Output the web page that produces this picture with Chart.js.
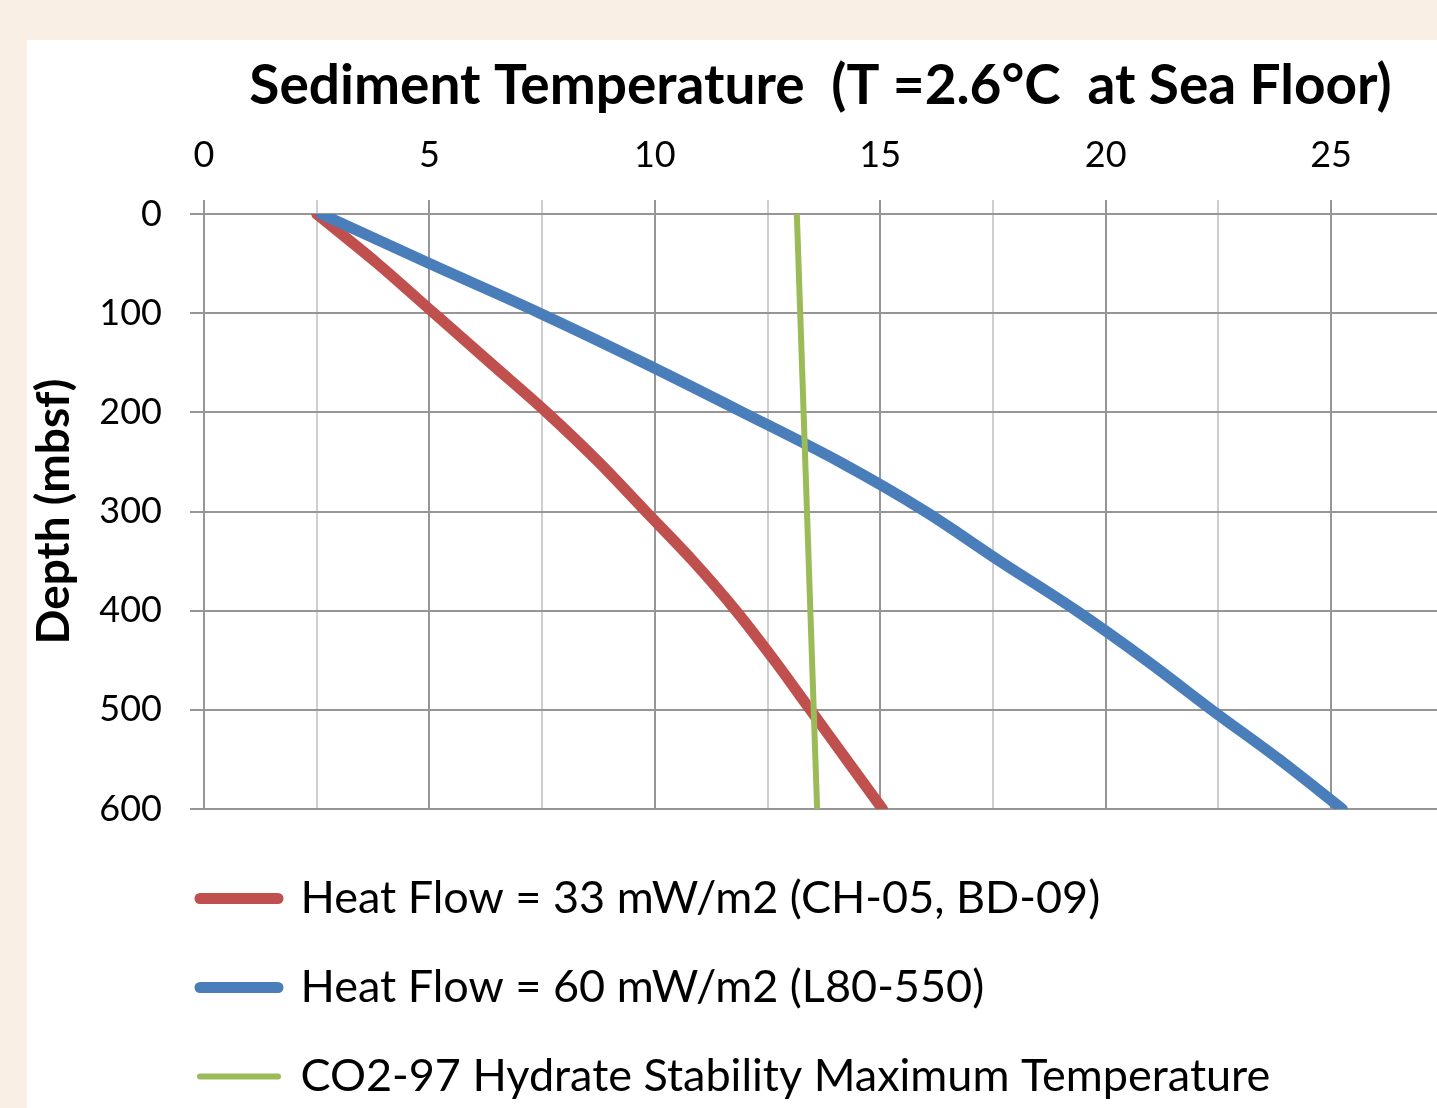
<!DOCTYPE html>
<html>
<head>
<meta charset="utf-8">
<script src="https://cdn.jsdelivr.net/npm/chart.js@4/dist/chart.umd.min.js"></script>
<style>
  html, body { margin: 0; padding: 0; background: #f9efe5; overflow: hidden; }
  #panel { position: absolute; left: 27px; top: 40px; width: 1410px; height: 1068px; background: #fff; }
</style>
</head>
<body>
<div id="panel"><canvas id="chart_sediment_temp"></canvas></div>
<script>
// depth below sea floor (m) for the two heat-flow profiles
const depths = [0, 50, 100, 150, 200, 250, 300, 350, 400, 450, 500, 550, 600];
// temperature (°C)
const heatFlow33 = [2.5, 3.85, 5.1, 6.35, 7.6, 8.75, 9.8, 10.85, 11.8, 12.65, 13.45, 14.25, 15.05];
const heatFlow60 = [2.6, 5.0, 7.45, 9.75, 11.95, 14.1, 16.0, 17.65, 19.35, 20.9, 22.35, 23.85, 25.25];
// CO2-97 hydrate stability max temperature
const co2Depths = [0, 600];
const co2Temps = [13.15, 13.6];

const seriesLabels = [
    'Heat Flow = 33 mW/m2 (CH-05, BD-09)',
    'Heat Flow = 60 mW/m2 (L80-550)',
    'CO2-97 Hydrate Stability Maximum Temperature'
];
const xTickLabels = [0, 5, 10, 15, 20, 25];
const titleText = 'Sediment Temperature  (T =2.6°C  at Sea Floor)';

const toPoints = (xs, ys) => xs.map((x, i) => ({ x: x, y: ys[i] }));
const isMajor = v => xTickLabels.includes(Math.round(v * 100) / 100);

Chart.defaults.font.family = 'Lato, "Open Sans", sans-serif';
Chart.defaults.color = '#000';

// push the legend block under the plot, lined up like the original
const legendShift = {
    id: 'legendShift',
    afterLayout(chart) {
        const lg = chart.legend;
        lg.left = chart.chartArea.left - 48;
        lg.top = chart.chartArea.bottom + 23;
        lg.right = chart.width;
        lg.bottom = chart.height;
    }
};

const canvas = document.getElementById('chart_sediment_temp');

new Chart(canvas, {
    type: 'scatter',
    data: {
        datasets: [
            {
                label: seriesLabels[0],
                data: toPoints(heatFlow33, depths),
                showLine: true,
                borderColor: '#c0504d',
                backgroundColor: '#c0504d',
                borderWidth: 11,
                borderCapStyle: 'round',
                borderJoinStyle: 'round',
                cubicInterpolationMode: 'monotone',
                pointRadius: 0,
                order: 3
            },
            {
                label: seriesLabels[1],
                data: toPoints(heatFlow60, depths),
                showLine: true,
                borderColor: '#4a7ebb',
                backgroundColor: '#4a7ebb',
                borderWidth: 11,
                borderCapStyle: 'round',
                borderJoinStyle: 'round',
                cubicInterpolationMode: 'monotone',
                pointRadius: 0,
                order: 2
            },
            {
                label: seriesLabels[2],
                data: toPoints(co2Temps, co2Depths),
                showLine: true,
                borderColor: '#9bbb59',
                backgroundColor: '#9bbb59',
                borderWidth: 6,
                borderCapStyle: 'butt',
                pointRadius: 0,
                order: 1
            }
        ]
    },
    options: {
        responsive: true,
        maintainAspectRatio: false,
        animation: false,
        layout: { padding: { bottom: 22 } },
        plugins: {
            tooltip: { enabled: false },
            title: {
                display: true,
                text: titleText,
                fullSize: false,
                font: { size: 55, weight: 'bold' },
                padding: { top: 13, bottom: 0 }
            },
            legend: {
                position: 'bottom',
                align: 'start',
                fullSize: false,
                labels: {
                    font: { size: 45 },
                    padding: 44,
                    usePointStyle: true,
                    pointStyleWidth: 78,
                    generateLabels: chart => chart.data.datasets.map((ds, i) => ({
                        text: ds.label,
                        fillStyle: ds.borderColor,
                        strokeStyle: ds.borderColor,
                        lineWidth: ds.borderWidth,
                        lineCap: 'round',
                        pointStyle: 'line',
                        fontColor: '#000',
                        hidden: false,
                        datasetIndex: i
                    }))
                }
            }
        },
        scales: {
            x: {
                type: 'linear',
                position: 'top',
                min: 0,
                max: 27.35,
                afterBuildTicks: scale => {
                    scale.ticks = scale.ticks.filter(t => Math.abs(t.value / 2.5 - Math.round(t.value / 2.5)) < 1e-6);
                },
                afterFit: scale => { scale.height = 95; },
                ticks: {
                    stepSize: 2.5,
                    includeBounds: false,
                    padding: 23,
                    maxRotation: 0,
                    autoSkip: false,
                    font: { size: 36 },
                    callback: v => isMajor(v) ? String(Math.round(v)) : ''
                },
                grid: {
                    lineWidth: 2,
                    tickLength: 14,
                    color: ctx => isMajor(ctx.tick.value) ? '#969696' : '#cfcfcf',
                    tickColor: ctx => isMajor(ctx.tick.value) ? '#969696' : '#cfcfcf'
                },
                border: { color: '#969696', width: 2 }
            },
            y: {
                type: 'linear',
                reverse: true,
                min: 0,
                max: 600,
                afterFit: scale => { scale.width = 177; },
                ticks: {
                    stepSize: 100,
                    padding: 28,
                    font: { size: 36 }
                },
                grid: {
                    lineWidth: 2,
                    tickLength: 14,
                    color: '#969696',
                    tickColor: '#969696'
                },
                border: { color: '#969696', width: 2 },
                title: {
                    display: true,
                    text: 'Depth (mbsf)',
                    font: { size: 46, weight: 'bold' },
                    padding: { top: 0, bottom: 0 }
                }
            }
        }
    },
    plugins: [legendShift]
});
</script>
</body>
</html>
